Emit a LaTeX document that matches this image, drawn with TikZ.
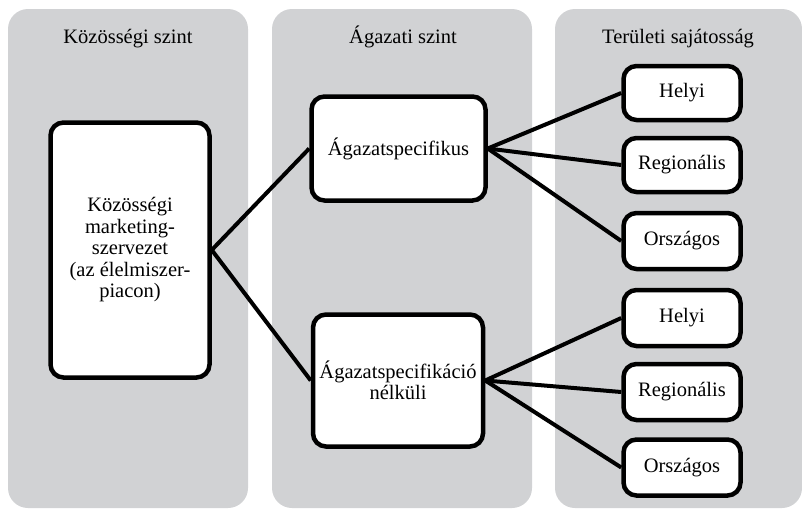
\documentclass[tikz,border=0pt]{standalone}
\usepackage{fontspec}
\setmainfont{Liberation Serif}
\usepackage{tikz}
\definecolor{colgray}{HTML}{D1D2D4}

\begin{document}
\begin{tikzpicture}[x=1pt,y=-1pt,font=\fontsize{20.5}{21.5}\selectfont,
    column/.style={fill=colgray,rounded corners=20pt},
    coltitle/.style={anchor=base},
    box/.style={draw,line width=4.5pt,fill=white,rounded corners=13pt,align=center,inner sep=1pt},
    link/.style={line width=4pt}]
  \useasboundingbox (0,0) rectangle (802,509);
  % the three levels
  \fill[column] (8,9) rectangle (248,508);
  \fill[column] (272,9) rectangle (532,508);
  \fill[column] (555,9) rectangle (802,508);
  \node[coltitle] (t1) at (128,43) {Közösségi szint};
  \node[coltitle] (t2) at (403,43) {Ágazati szint};
  \node[coltitle] (t3) at (678,43) {Területi sajátosság};
  % boxes
  \node[box,minimum width=159pt,minimum height=255pt] (kme) at (130,250)
    {Közösségi\\marketing-\\szervezet\\(az élelmiszer-\\piacon)};
  \node[box,minimum width=174pt,minimum height=104pt] (spec) at (398.5,148.5) {Ágazatspecifikus};
  \node[box,minimum width=170pt,minimum height=132pt] (nospec) at (398,380.5) {Ágazatspecifikáció\\nélküli};
  \node[box,minimum width=117pt,minimum height=54pt] (h1) at (682,93) {Helyi};
  \node[box,minimum width=117pt,minimum height=54pt] (r1) at (682,165) {Regionális};
  \node[box,minimum width=117pt,minimum height=56pt] (o1) at (682,241) {Országos};
  \node[box,minimum width=117pt,minimum height=56pt] (h2) at (682,318) {Helyi};
  \node[box,minimum width=117pt,minimum height=56pt] (r2) at (682,392) {Regionális};
  \node[box,minimum width=117pt,minimum height=56pt] (o2) at (682,467.5) {Országos};
  % connectors
  \draw[link] (kme.east) -- (spec.west);
  \draw[link] (kme.east) -- (nospec.west);
  \foreach \t in {h1,r1,o1}
    \draw[link] (spec.east) -- (\t.west);
  \foreach \t in {h2,r2,o2}
    \draw[link] (nospec.east) -- (\t.west);
\end{tikzpicture}
\end{document}
